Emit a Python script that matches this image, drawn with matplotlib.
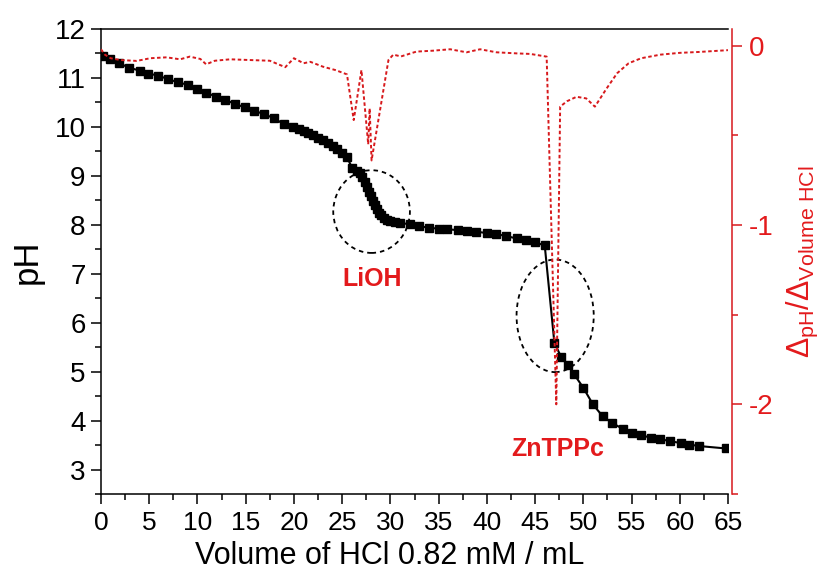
import matplotlib
matplotlib.use("Agg")
import matplotlib.pyplot as plt
from matplotlib.patches import Ellipse
from matplotlib.ticker import MultipleLocator

plt.rcParams['font.family'] = ['Liberation Sans', 'DejaVu Sans']
plt.rcParams['axes.unicode_minus'] = False
plt.rcParams['mathtext.fontset'] = 'custom'
plt.rcParams['mathtext.rm'] = 'Liberation Sans'
plt.rcParams['mathtext.it'] = 'Liberation Sans:italic'

# pH titration curve (black squares)
vol_ph = [0.2, 0.9, 1.9, 2.9, 4.0, 4.9, 5.9, 6.9, 8.0, 9.0, 10.0, 10.9, 11.9,
          12.9, 13.9, 14.9, 15.9, 16.9, 17.9, 19.0, 19.9, 20.5, 21.0, 21.5,
          22.0, 22.5, 23.0, 23.5, 24.0, 24.5, 25.0, 25.5, 26.0, 26.5, 26.8,
          27.1, 27.4, 27.6, 27.8, 28.0, 28.2, 28.4, 28.6, 28.8, 29.0, 29.3,
          29.6, 30.0, 30.5, 31.0, 32.0, 33.0, 34.0, 35.0, 35.9, 37.0, 37.9,
          38.9, 40.0, 41.0, 42.0, 43.1, 44.1, 45.0, 46.0, 47.0, 47.7, 48.4,
          49.0, 50.0, 51.0, 52.0, 53.0, 54.1, 55.0, 56.0, 57.0, 58.0, 59.0,
          60.1, 61.0, 62.0, 64.8]
ph = [11.45, 11.38, 11.30, 11.21, 11.15, 11.09, 11.05, 10.98, 10.91, 10.86,
      10.77, 10.70, 10.62, 10.55, 10.47, 10.40, 10.33, 10.26, 10.18, 10.05,
      9.99, 9.96, 9.92, 9.88, 9.83, 9.78, 9.73, 9.67, 9.60, 9.54, 9.47, 9.39,
      9.17, 9.10, 9.05, 8.97, 8.87, 8.78, 8.68, 8.58, 8.48, 8.40, 8.32, 8.25,
      8.19, 8.13, 8.10, 8.07, 8.06, 8.04, 8.01, 7.97, 7.94, 7.92, 7.91, 7.89,
      7.87, 7.86, 7.83, 7.81, 7.77, 7.72, 7.69, 7.64, 7.58, 5.59, 5.30, 5.14,
      4.96, 4.67, 4.33, 4.09, 3.95, 3.83, 3.75, 3.70, 3.65, 3.62, 3.58, 3.54,
      3.51, 3.48, 3.43]

# derivative dpH/dV (red dotted)
vol_d = [0.0, 0.4, 1.0, 2.0, 3.7, 5.1, 6.8, 8.2, 9.2, 10.3, 10.9, 11.8, 13.4,
         15.4, 17.5, 19.1, 20.0, 21.0, 21.7, 23.0, 24.3, 25.5, 26.2, 27.0,
         27.7, 27.85, 28.05, 29.8, 30.3, 31.1, 32.7, 34.4, 36.2, 37.9, 39.3,
         41.0, 43.1, 44.5, 46.2, 47.2, 47.6, 48.3, 49.3, 50.3, 51.2, 52.4,
         53.5, 54.7, 56.0, 58.0, 60.0, 62.0, 65.0]
dph = [-0.02, -0.05, -0.07, -0.08, -0.085, -0.07, -0.065, -0.076, -0.061,
       -0.074, -0.104, -0.084, -0.076, -0.08, -0.084, -0.12, -0.07, -0.098,
       -0.09, -0.117, -0.136, -0.16, -0.415, -0.136, -0.55, -0.35, -0.64,
       -0.08, -0.05, -0.06, -0.033, -0.028, -0.02, -0.037, -0.02, -0.037,
       -0.043, -0.046, -0.061, -2.0, -0.34, -0.31, -0.285, -0.294, -0.34,
       -0.24, -0.154, -0.098, -0.07, -0.05, -0.04, -0.035, -0.025]

red = '#d7191c'
red_txt = '#e31a1c'

fig = plt.figure(figsize=(8.22, 5.80), dpi=100)
ax = fig.add_axes([101/822, 1 - 494/580, 627/822, 465/580])

ax.plot(vol_ph, ph, color='black', lw=1.5, marker='s', ms=6.3, zorder=3)

ax.set_xlim(0, 65)
ax.set_ylim(2.5, 12)
ax.xaxis.set_major_locator(MultipleLocator(5))
ax.xaxis.set_minor_locator(MultipleLocator(2.5))
ax.yaxis.set_major_locator(MultipleLocator(1))
ax.yaxis.set_minor_locator(MultipleLocator(0.5))
ax.tick_params(which='both', direction='out', width=1.1, top=False, right=False)
ax.tick_params(which='major', length=7)
ax.tick_params(which='minor', length=4)
ax.tick_params(axis='y', labelsize=20, pad=4)
ax.tick_params(axis='x', labelsize=19, pad=5)
for s in ['left', 'bottom', 'top']:
    ax.spines[s].set_linewidth(1.1)
ax.spines['right'].set_visible(False)

ax.set_ylabel('pH', fontsize=25, labelpad=8)
ax.set_xlabel('Volume of HCl 0.82 mM / mL', fontsize=22)
ax.xaxis.set_label_coords(0.461, -0.10)

# circled equivalence regions
ax.add_patch(Ellipse((28.05, 8.27), 7.95, 1.69, fill=False, ec='black',
                     lw=1.3, ls=(0, (2.5, 2.2)), zorder=5))
ax.add_patch(Ellipse((47.08, 6.14), 8.0, 2.30, fill=False, ec='black',
                     lw=1.3, ls=(0, (2.5, 2.2)), zorder=5))
ax.text(28.1, 6.89, 'LiOH', color=red_txt, fontsize=18, fontweight='bold',
        ha='center', va='center')
ax.text(47.36, 3.42, 'ZnTPPc', color=red_txt, fontsize=18, fontweight='bold',
        ha='center', va='center')

ax2 = ax.twinx()
ax2.plot(vol_d, dph, color=red, lw=1.4, ls=(0, (1.8, 1.3)))
ax2.set_ylim(-2.5, 0.093)
ax2.yaxis.set_major_locator(MultipleLocator(1))
ax2.yaxis.set_minor_locator(MultipleLocator(0.5))
for s in ['left', 'bottom', 'top']:
    ax2.spines[s].set_visible(False)
ax2.spines['right'].set_color(red)
ax2.spines['right'].set_linewidth(1.1)
ax2.spines['right'].set_position(('outward', 3))
ax2.tick_params(axis='y', which='both', direction='out', color=red,
                labelcolor=red_txt, width=1.1, labelsize=20, pad=5)
ax2.tick_params(which='major', length=7)
ax2.tick_params(which='minor', length=4)
ax2.set_ylabel(r'$\Delta_{\mathrm{pH}}/\Delta_{\mathrm{Volume\ HCl}}$',
               color=red_txt, fontsize=22, labelpad=8)

fig.savefig('out.png', dpi=100)
